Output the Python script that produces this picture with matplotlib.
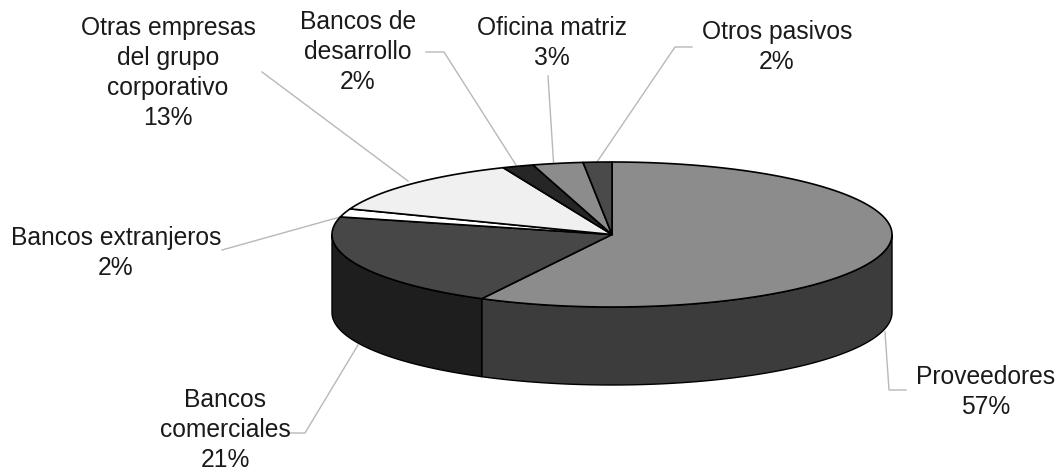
import numpy as np
import matplotlib
matplotlib.use("Agg")
import matplotlib.pyplot as plt
from matplotlib.patches import Polygon

plt.rcParams['font.family'] = ['Liberation Sans', 'DejaVu Sans']

# shares as measured on the drawn pie, clockwise from 12 o'clock
categories = ["Proveedores", "Bancos\ncomerciales", "Bancos extranjeros",
              "Otras empresas\ndel grupo\ncorporativo", "Bancos de\ndesarrollo",
              "Oficina matriz", "Otros pasivos"]
shares = [57.7, 21.2, 1.85, 12.9, 1.8, 2.9, 1.65]
percent_labels = ["57%", "21%", "2%", "13%", "2%", "3%", "2%"]

top_colors = ["#8c8c8c", "#474747", "#ffffff", "#f0f0f0", "#262626", "#8c8c8c", "#4a4a4a"]
side_colors = ["#3c3c3c", "#1e1e1e", "#555555", "#777777", "#111111", "#3c3c3c", "#222222"]

label_pos = [(986, 392), (225, 430), (116, 253), (168, 73), (358, 52), (552, 43), (777, 47)]
leaders = [
    [(885, 332), (889, 390), (906, 390)],
    [(358, 345), (305, 433), (288, 433)],
    [(340, 217), (222, 250)],
    [(408, 181), (262, 72)],
    [(516, 165), (444, 52), (426, 52)],
    [(553.5, 162), (548, 76)],
    [(597, 162), (675, 47), (692, 47)],
]

cx, cy = 612, 234.5
rx, ry = 280, 72.5
depth = 78


def ellipse_pts(a0, a1, dy=0):
    # angles in degrees clockwise from the top
    t = np.radians(np.linspace(a0, a1, 200))
    return np.column_stack([cx + rx * np.sin(t), cy + dy - ry * np.cos(t)])


fig = plt.figure(figsize=(10.6, 4.71), dpi=100)
ax = fig.add_axes([0, 0, 1, 1])
ax.set_xlim(0, 1060)
ax.set_ylim(471, 0)
ax.axis('off')

edges = np.concatenate([[0], np.cumsum(shares)]) / sum(shares) * 360

# leader lines go under the pie
for pts in leaders:
    xs, ys = zip(*pts)
    ax.plot(xs, ys, color="#b8b8b8", lw=1, zorder=1)

# side wall, only the front half shows
for i in range(len(shares)):
    a0 = max(edges[i], 90)
    a1 = min(edges[i + 1], 270)
    if a1 <= a0:
        continue
    upper = ellipse_pts(a0, a1)
    lower = ellipse_pts(a1, a0, depth)
    ax.add_patch(Polygon(np.vstack([upper, lower]), closed=True, facecolor=side_colors[i],
                         edgecolor="black", lw=1, zorder=2))

# top face
for i in range(len(shares)):
    arc = ellipse_pts(edges[i], edges[i + 1])
    ax.add_patch(Polygon(np.vstack([[cx, cy], arc]), closed=True, facecolor=top_colors[i],
                         edgecolor="black", lw=1.2, joinstyle='round', zorder=3))

for name, pct, (x, y) in zip(categories, percent_labels, label_pos):
    ax.text(x, y, name + "\n" + pct, ha='center', va='center', fontsize=17.7,
            color="#1a1a1a", linespacing=1.3, zorder=4)

fig.savefig("out.png", dpi=100)
